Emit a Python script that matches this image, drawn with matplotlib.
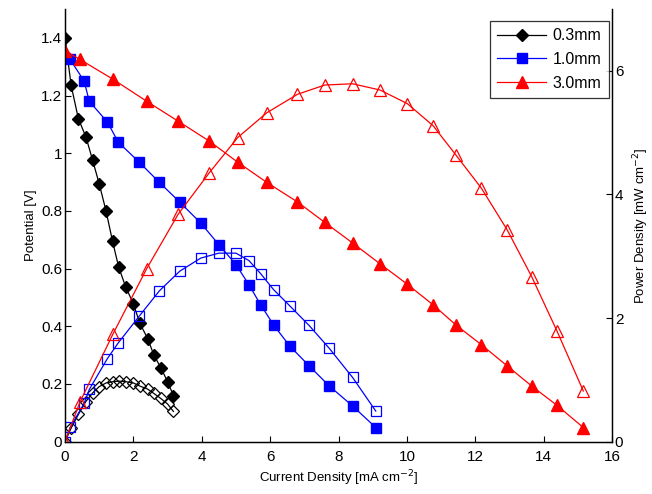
import matplotlib
matplotlib.use("Agg")
import matplotlib.pyplot as plt

plt.rcParams["font.family"] = ["Liberation Sans", "DejaVu Sans"]

# 0.3mm
i_03 = [0.0, 0.18, 0.39, 0.61, 0.81, 1.0, 1.2, 1.39, 1.57, 1.78, 2.0, 2.19, 2.42, 2.6, 2.8, 3.0, 3.17]
v_03 = [1.40, 1.235, 1.12, 1.057, 0.975, 0.894, 0.80, 0.695, 0.605, 0.535, 0.478, 0.41, 0.357, 0.30, 0.257, 0.208, 0.16]
p_03 = [0.0, 0.22, 0.44, 0.65, 0.79, 0.89, 0.95, 0.97, 0.98, 0.97, 0.95, 0.90, 0.85, 0.78, 0.70, 0.61, 0.49]

# 1.0mm
i_10 = [0.0, 0.15, 0.56, 0.71, 1.24, 1.56, 2.17, 2.76, 3.36, 3.97, 4.5, 5.0, 5.38, 5.72, 6.1, 6.57, 7.14, 7.73, 8.41, 9.09]
v_10 = [1.33, 1.325, 1.25, 1.18, 1.108, 1.038, 0.969, 0.899, 0.83, 0.758, 0.683, 0.614, 0.544, 0.475, 0.405, 0.332, 0.263, 0.193, 0.124, 0.049]
p_10 = [0.0, 0.23, 0.62, 0.845, 1.345, 1.6, 2.03, 2.44, 2.76, 2.97, 3.05, 3.05, 2.93, 2.72, 2.46, 2.2, 1.88, 1.51, 1.04, 0.495]

# 3.0mm
i_30 = [0.0, 0.44, 1.41, 2.39, 3.31, 4.22, 5.05, 5.9, 6.8, 7.6, 8.41, 9.21, 10.01, 10.77, 11.43, 12.18, 12.93, 13.65, 14.39, 15.16]
v_30 = [1.355, 1.325, 1.256, 1.18, 1.111, 1.042, 0.969, 0.899, 0.831, 0.76, 0.689, 0.617, 0.546, 0.474, 0.405, 0.336, 0.263, 0.193, 0.126, 0.049]
p_30 = [0.0, 0.645, 1.75, 2.80, 3.68, 4.35, 4.92, 5.32, 5.62, 5.77, 5.79, 5.69, 5.47, 5.11, 4.64, 4.10, 3.43, 2.67, 1.79, 0.82]

labels = ["0.3mm", "1.0mm", "3.0mm"]
colors = ["black", "#0000ff", "#ff0000"]
markers = ["D", "s", "^"]
sizes = [5.8, 7, 8]

fig = plt.figure(figsize=(6.52, 4.94), dpi=100)
ax1 = fig.add_axes([0.0997, 0.1059, 0.8390, 0.8759])
ax2 = ax1.twinx()

handles = []
for i, v, p, lab, c, m, ms in zip([i_03, i_10, i_30], [v_03, v_10, v_30], [p_03, p_10, p_30],
                                   labels, colors, markers, sizes):
    h, = ax1.plot(i, v, color=c, lw=0.9, marker=m, ms=ms, mfc=c, mec=c, label=lab)
    ax2.plot(i, p, color=c, lw=0.9, marker=m, ms=ms, mfc="none", mec=c, mew=0.9)
    handles.append(h)

ax1.set_xlim(0, 16)
ax1.set_ylim(0, 1.5)
ax2.set_ylim(0, 7)
ax1.set_xticks(range(0, 17, 2))
ax1.set_yticks([0, 0.2, 0.4, 0.6, 0.8, 1, 1.2, 1.4])
ax1.set_yticklabels(["0", "0.2", "0.4", "0.6", "0.8", "1", "1.2", "1.4"])
ax2.set_yticks([0, 2, 4, 6])

for ax in (ax1, ax2):
    ax.spines["top"].set_visible(False)
    for s in ax.spines.values():
        s.set_linewidth(0.9)
    ax.tick_params(direction="in", length=4, width=0.8, labelsize=11, pad=2)
ax1.tick_params(axis="x", pad=6)

ax1.set_xlabel("Current Density [mA cm$^{-2}$]", fontsize=9.5, labelpad=3)
ax1.set_ylabel("Potential [V]", fontsize=9.5, labelpad=3)
ax2.set_ylabel("Power Density [mW cm$^{-2}$]", fontsize=9.5, labelpad=6)

leg = ax2.legend(handles=handles, loc="upper right", bbox_to_anchor=(0.994, 0.972),
                 fontsize=11.5, handlelength=3.1, frameon=True, fancybox=False,
                 borderpad=0.45, labelspacing=0.55, handletextpad=0.4, borderaxespad=0)
leg.get_frame().set_edgecolor("black")
leg.get_frame().set_linewidth(0.9)

plt.savefig("out.png", dpi=100)
